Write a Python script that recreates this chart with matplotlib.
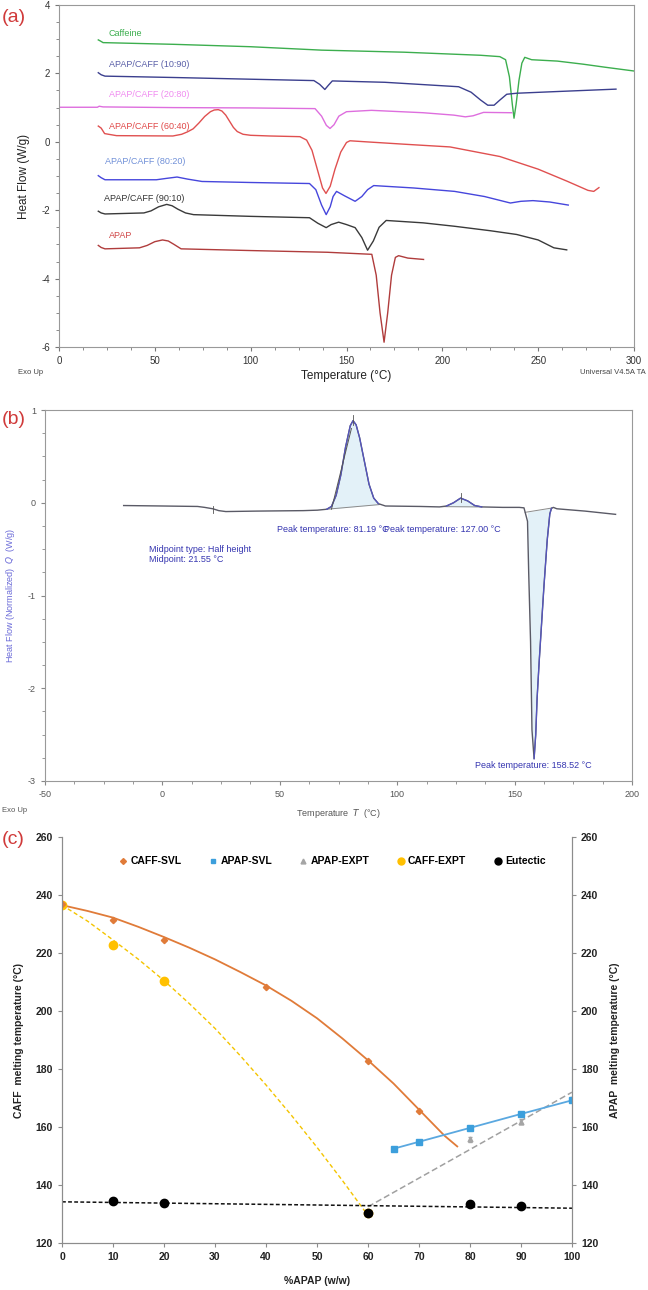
import numpy as np
import matplotlib.pyplot as plt
from matplotlib.ticker import AutoMinorLocator, MultipleLocator
from matplotlib.lines import Line2D

# ---------------- (a) DSC thermograms ----------------
caff_T = [20.5, 21.5, 23, 60, 100, 137, 180, 220, 230, 233, 235, 236.5, 237.4, 238.5, 240, 241.5, 243, 246.6, 260, 273.4, 285, 300]
caff_y = [2.98, 2.95, 2.90, 2.85, 2.78, 2.68, 2.62, 2.53, 2.49, 2.4, 1.9, 1.1, 0.69, 1.1, 1.8, 2.3, 2.47, 2.40, 2.36, 2.27, 2.18, 2.07]

c1090_T = [20.5, 22, 24, 60, 100, 133, 136, 138.7, 140.5, 142.6, 170, 208.5, 215, 220, 223.7, 227, 230, 233.6, 238.8, 260, 290.6]
c1090_y = [2.02, 1.96, 1.92, 1.88, 1.83, 1.79, 1.68, 1.53, 1.65, 1.78, 1.74, 1.61, 1.45, 1.22, 1.07, 1.07, 1.22, 1.39, 1.42, 1.47, 1.54]

c2080_T = [0, 20, 21, 23, 60, 100, 133.6, 137, 139.5, 141.4, 143.5, 146, 150, 163, 190, 206, 212, 216, 221.5, 236.2]
c2080_y = [1.01, 1.01, 1.04, 1.02, 1.0, 0.99, 0.97, 0.75, 0.48, 0.39, 0.5, 0.75, 0.88, 0.92, 0.85, 0.78, 0.73, 0.76, 0.86, 0.85]

c6040_T = [20.5, 22, 23.8, 30, 59.4, 64, 67, 70, 73, 76, 79, 81, 83.1, 85, 87, 89, 91, 93, 96, 100, 110, 125.7, 129.2,
           132, 135, 137.5, 139.3, 141.5, 144, 147, 150, 151.8, 160, 180, 204, 230, 250, 265, 276, 279, 281.7]
c6040_y = [0.46, 0.40, 0.24, 0.18, 0.17, 0.22, 0.29, 0.38, 0.55, 0.74, 0.88, 0.93, 0.94, 0.9, 0.78, 0.6, 0.42, 0.3, 0.22,
           0.19, 0.17, 0.15, 0.05, -0.25, -0.85, -1.35, -1.51, -1.3, -0.8, -0.3, -0.02, 0.03, 0.0, -0.07, -0.15, -0.43,
           -0.8, -1.15, -1.42, -1.45, -1.34]

c8020_T = [20.5, 22, 24, 50.8, 56, 61.6, 67, 74.6, 100, 130.7, 134, 137, 139.4, 141.5, 143, 144.8, 149, 154.5, 158, 161, 164.2, 185, 206.4, 222, 235.5, 241, 247.3, 256, 265.7]
c8020_y = [-0.99, -1.05, -1.11, -1.11, -1.07, -1.03, -1.09, -1.16, -1.19, -1.22, -1.4, -1.85, -2.13, -1.9, -1.6, -1.45, -1.58, -1.74, -1.6, -1.4, -1.28, -1.35, -1.45, -1.6, -1.79, -1.74, -1.72, -1.76, -1.85]

c9010_T = [20.5, 22, 24, 44.3, 48, 52, 56.2, 59, 62, 66, 70.2, 100, 130.7, 135, 139.4, 142, 145.9, 150, 154.5, 158, 161, 164, 167, 170.7, 190, 206.4, 225, 238.8, 250, 258.2, 264.9]
c9010_y = [-2.03, -2.08, -2.11, -2.08, -2.02, -1.9, -1.83, -1.87, -1.97, -2.08, -2.13, -2.18, -2.22, -2.38, -2.51, -2.42, -2.35, -2.42, -2.51, -2.8, -3.17, -2.9, -2.5, -2.30, -2.37, -2.47, -2.6, -2.71, -2.87, -3.10, -3.16]

apap_T = [20.5, 22, 24, 42, 46, 50, 54, 57, 60, 63.7, 100, 140, 163.2, 165.5, 167.5, 169.6, 171.5, 173.5, 175.5, 177.2, 182, 190.2]
apap_y = [-3.03, -3.09, -3.13, -3.10, -3.03, -2.92, -2.87, -2.9, -3.0, -3.13, -3.18, -3.23, -3.29, -3.9, -5.0, -5.86, -5.0, -3.9, -3.38, -3.33, -3.40, -3.44]

curve_labels = ["Caffeine", "APAP/CAFF (10:90)", "APAP/CAFF (20:80)", "APAP/CAFF (60:40)",
                "APAP/CAFF (80:20)", "APAP/CAFF (90:10)", "APAP"]
label_T = [26, 26, 26, 26, 24, 23.5, 26]
label_y = [3.17, 2.26, 1.39, 0.46, -0.59, -1.67, -2.73]

# ---------------- (b) APAP/CAFF thermogram with analysis ----------------
b_T = [-16.5, 0, 15, 18, 21.5, 24, 27, 40, 60, 66, 70, 72, 74, 76, 78, 80, 81.2, 82.5, 84, 86, 88, 90, 92, 95,
       110, 118, 121, 124, 127, 130, 133, 136, 145, 152, 154, 155.5, 156, 156.8, 157.4, 158.3, 159, 159.6, 160.5,
       161.3, 162.5, 163.9, 165, 165.7, 166.5, 168, 180, 193]
b_y = [-0.03, -0.035, -0.04, -0.05, -0.065, -0.085, -0.095, -0.09, -0.085, -0.08, -0.07, -0.04, 0.08, 0.3, 0.6, 0.83,
       0.885, 0.84, 0.7, 0.45, 0.2, 0.05, -0.01, -0.035, -0.04, -0.045, -0.035, 0.0, 0.05, 0.02, -0.03, -0.045, -0.05,
       -0.05, -0.055, -0.2, -0.75, -1.5, -2.45, -2.76, -2.5, -2.1, -1.7, -1.38, -0.9, -0.4, -0.12, -0.06, -0.05,
       -0.065, -0.09, -0.125]

# ---------------- (c) phase diagram ----------------
caff_svl_x = [0, 10, 20, 40, 60, 70]
caff_svl_y = [236.8, 231.3, 224.6, 208.4, 182.7, 165.5]
caff_svl_fit_x = [0, 5, 10, 15, 20, 25, 30, 35, 40, 45, 50, 55, 60, 65, 70, 75, 77.5]
caff_svl_fit_y = [236.5, 234.5, 232.2, 229.0, 225.5, 221.8, 217.8, 213.4, 208.8, 203.5, 197.5, 190.5, 183.0, 175.0, 166.0, 157.0, 153.3]

apap_svl_x = [65, 70, 80, 90, 100]
apap_svl_y = [152.5, 154.9, 159.7, 164.5, 169.2]

apap_expt_x = [80, 90, 100]
apap_expt_y = [155.8, 161.8, 169.5]
apap_expt_fit_x = [60, 100]
apap_expt_fit_y = [132.5, 172.0]

caff_expt_x = [0, 10, 20, 60]
caff_expt_y = [236.5, 222.7, 210.4, 130.3]
caff_expt_fit_x = [0, 5, 10, 15, 20, 25, 30, 35, 40, 45, 50, 55, 60]
caff_expt_fit_y = [236.5, 231.0, 224.5, 217.8, 210.5, 202.5, 194.0, 184.5, 174.5, 164.0, 153.0, 141.5, 129.5]

eutectic_x = [10, 20, 60, 80, 90]
eutectic_y = [134.4, 133.9, 130.3, 133.3, 132.7]
eutectic_fit_x = [0, 100]
eutectic_fit_y = [134.2, 132.0]

W, H = 648, 1290
fig = plt.figure(figsize=(W / 100, H / 100), dpi=100)
plt.rcParams['font.family'] = ['Liberation Sans', 'DejaVu Sans']
plt.rcParams['axes.unicode_minus'] = False


def box(l, t, r, b):
    return [l / W, 1 - b / H, (r - l) / W, (b - t) / H]


red_lbl = '#d03a3a'

# ===== panel (a) =====
ax = fig.add_axes(box(59, 5, 634, 347))
curves = [(caff_T, caff_y, '#3cae4e'), (c1090_T, c1090_y, '#3b3f8e'), (c2080_T, c2080_y, '#de6ede'),
          (c6040_T, c6040_y, '#e05050'), (c8020_T, c8020_y, '#4646dc'), (c9010_T, c9010_y, '#3a3a3a'),
          (apap_T, apap_y, '#b03c3c')]
lbl_colors = ['#3cae4e', '#5a5fa8', '#f08cf0', '#e04848', '#7090d8', '#333333', '#d04848']
for (t, y, c) in curves:
    ax.plot(t, y, color=c, lw=1.0)
for txt, tx, ty, c in zip(curve_labels, label_T, label_y, lbl_colors):
    ax.text(tx, ty, txt, color=c, fontsize=6.5, ha='left', va='center')
ax.set_xlim(0, 300)
ax.set_ylim(-6, 4)
ax.xaxis.set_major_locator(MultipleLocator(50))
ax.yaxis.set_major_locator(MultipleLocator(2))
ax.xaxis.set_minor_locator(AutoMinorLocator(4))
ax.yaxis.set_minor_locator(AutoMinorLocator(4))
ax.tick_params(which='both', direction='out', colors='#777777', labelcolor='#333333', labelsize=7)
ax.tick_params(which='major', length=3)
ax.tick_params(which='minor', length=2)
for s in ax.spines.values():
    s.set_color('#999999')
ax.set_xlabel('Temperature (°C)', fontsize=8.5, color='#222222', labelpad=3)
ax.set_ylabel('Heat Flow (W/g)', fontsize=8.5, color='#222222', labelpad=8)
fig.text(18 / W, 1 - 372 / H, 'Exo Up', fontsize=5.5, color='#444444', va='center')
fig.text(646 / W, 1 - 372 / H, 'Universal V4.5A TA', fontsize=5.5, color='#444444', va='center', ha='right')
fig.text(2 / W, 1 - 18 / H, '(a)', fontsize=14, color=red_lbl, va='center')

# ===== panel (b) =====
bx = fig.add_axes(box(45, 410, 632, 781))
bT = np.array(b_T)
by = np.array(b_y)
# shaded peaks between curve and straight baselines
for lo, hi in [(70, 93), (119, 136), (154.5, 166)]:
    m = (bT >= lo) & (bT <= hi)
    base = np.interp(bT[m], [lo, hi], [np.interp(lo, bT, by), np.interp(hi, bT, by)])
    bx.fill_between(bT[m], by[m], base, color='#e3f1f8', lw=0)
    bx.plot([lo, hi], [np.interp(lo, bT, by), np.interp(hi, bT, by)], color='#8a8a8a', lw=0.7)
bx.plot(bT, by, color='#5a5a66', lw=1.0)
for lo, hi in [(70, 93), (119, 136), (158.3, 166)]:
    m = (bT >= lo) & (bT <= hi)
    bx.plot(bT[m], by[m], color='#5555c0', lw=0.9)
bx.plot([72, 80.5], [-0.07, 0.8], color='#555555', lw=0.7)
bx.plot([81.2, 81.2], [0.84, 0.95], color='#555555', lw=0.6)
bx.plot([127, 127], [0.01, 0.1], color='#555555', lw=0.6)
bx.plot([21.5, 21.5], [-0.03, -0.11], color='#555555', lw=0.6)
blue_txt = '#3535b0'
bx.text(48.6, -0.29, 'Peak temperature: 81.19 °C', color=blue_txt, fontsize=6.5, va='center')
bx.text(94.4, -0.29, 'Peak temperature: 127.00 °C', color=blue_txt, fontsize=6.5, va='center')
bx.text(-5.6, -0.50, 'Midpoint type: Half height', color=blue_txt, fontsize=6.5, va='center')
bx.text(-5.6, -0.61, 'Midpoint: 21.55 °C', color=blue_txt, fontsize=6.5, va='center')
bx.text(133, -2.83, 'Peak temperature: 158.52 °C', color=blue_txt, fontsize=6.5, va='center')
bx.set_xlim(-50, 200)
bx.set_ylim(-3, 1)
bx.xaxis.set_major_locator(MultipleLocator(50))
bx.yaxis.set_major_locator(MultipleLocator(1))
bx.xaxis.set_minor_locator(AutoMinorLocator(4))
bx.yaxis.set_minor_locator(AutoMinorLocator(4))
bx.tick_params(which='both', direction='out', colors='#888888', labelcolor='#555555', labelsize=6.5)
bx.tick_params(which='major', length=3)
bx.tick_params(which='minor', length=2)
for s in bx.spines.values():
    s.set_color('#999999')
bx.set_xlabel(r'Temperature  $T$  (°C)', fontsize=6.5, color='#555555', labelpad=6)
bx.set_ylabel(r'Heat Flow (Normalized)  $Q$  (W/g)', fontsize=6.5, color='#6a6ad8', labelpad=8)
fig.text(2 / W, 1 - 810 / H, 'Exo Up', fontsize=5.5, color='#555555', va='center')
fig.text(2 / W, 1 - 420 / H, '(b)', fontsize=14, color=red_lbl, va='center')

# ===== panel (c) =====
cfont = ['Liberation Sans Narrow', 'Liberation Sans', 'DejaVu Sans']
cx = fig.add_axes(box(62, 837, 572, 1243))
cx.plot(caff_svl_fit_x, caff_svl_fit_y, color='#e07b39', lw=1.3)
cx.plot(caff_expt_fit_x, caff_expt_fit_y, color='#f4c400', lw=1.0, ls=(0, (3, 2)))
cx.plot(apap_expt_fit_x, apap_expt_fit_y, color='#a0a0a0', lw=1.1, ls=(0, (4, 2)))
cx.plot(eutectic_fit_x, eutectic_fit_y, color='#111111', lw=1.1, ls=(0, (2.5, 1.5)))
cx.plot(apap_svl_x, apap_svl_y, color='#5aa8e0', lw=1.3)
cx.errorbar(caff_expt_x, caff_expt_y, yerr=0.8, fmt='o', color='#ffc000', ms=6, capsize=1.5, elinewidth=0.8, zorder=4)
cx.errorbar(eutectic_x, eutectic_y, yerr=0.6, fmt='o', color='#000000', ms=6, capsize=1.5, elinewidth=0.8, zorder=5)
cx.plot(caff_svl_x, caff_svl_y, 'D', color='#e07b39', ms=3.2, zorder=6)
cx.plot(apap_svl_x, apap_svl_y, 's', color='#3c9fdc', ms=4, zorder=6)
cx.errorbar(apap_expt_x, apap_expt_y, yerr=0.9, fmt='^', color='#a5a5a5', ms=3.5, capsize=1.5, elinewidth=0.8, zorder=5)
cx.set_xlim(0, 100)
cx.set_ylim(120, 260)
cx.xaxis.set_major_locator(MultipleLocator(10))
cx.yaxis.set_major_locator(MultipleLocator(20))
cx.spines['top'].set_visible(False)
for s in ['left', 'right', 'bottom']:
    cx.spines[s].set_color('#8c8c8c')
cx.tick_params(direction='out', length=3, colors='#8c8c8c', labelcolor='#222222', labelsize=7.5)
for lb in cx.get_xticklabels() + cx.get_yticklabels():
    lb.set_family(cfont)
    lb.set_fontweight('bold')
cx.set_xlabel('%APAP (w/w)', fontsize=7.5, family=cfont, fontweight='bold', color='#222222', labelpad=10)
cx.set_ylabel('CAFF  melting temperature (°C)', fontsize=7.5, family=cfont, fontweight='bold', color='#222222', labelpad=8)
cy = cx.twinx()
cy.set_ylim(120, 260)
cy.yaxis.set_major_locator(MultipleLocator(20))
cy.spines['top'].set_visible(False)
for s in ['left', 'right', 'bottom']:
    cy.spines[s].set_color('#8c8c8c')
cy.tick_params(direction='out', length=3, colors='#8c8c8c', labelcolor='#222222', labelsize=7.5)
for lb in cy.get_yticklabels():
    lb.set_family(cfont)
    lb.set_fontweight('bold')
cy.set_ylabel('APAP  melting temperature (°C)', fontsize=7.5, family=cfont, fontweight='bold', color='#222222', labelpad=8)

handles = [Line2D([], [], ls='none', marker='D', color='#e07b39', ms=3),
           Line2D([], [], ls='none', marker='s', color='#3c9fdc', ms=3.5),
           Line2D([], [], ls='none', marker='^', color='#a5a5a5', ms=3.5),
           Line2D([], [], ls='none', marker='o', color='#ffc000', ms=5),
           Line2D([], [], ls='none', marker='o', color='#000000', ms=5)]
names = ['CAFF-SVL', 'APAP-SVL', 'APAP-EXPT', 'CAFF-EXPT', 'Eutectic']
cx.legend(handles, names, loc='center', bbox_to_anchor=(0.53, 0.94), ncol=5, frameon=False,
          handlelength=0.8, handletextpad=0.3, columnspacing=2.6,
          prop={'family': cfont, 'weight': 'bold', 'size': 7.5})
fig.text(2 / W, 1 - 840 / H, '(c)', fontsize=14, color=red_lbl, va='center')

fig.savefig('out.png', dpi=100)
